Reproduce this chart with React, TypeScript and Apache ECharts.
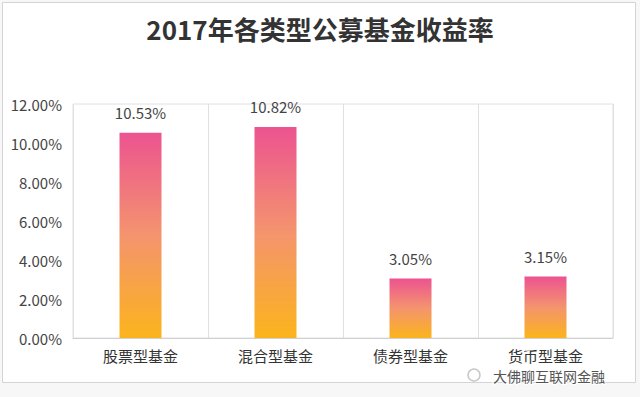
import React, { useEffect, useRef } from "react";
import * as echarts from "echarts";

const titleText = "2017年各类型公募基金收益率";
const categories = ["股票型基金", "混合型基金", "债券型基金", "货币型基金"];
const values = [10.53, 10.82, 3.05, 3.15];
const yMax = 12;
const yInterval = 2;
const watermark = "大佛聊互联网金融";

const FONT = "'Noto Sans CJK SC', 'Noto Sans', sans-serif";

export default function App() {
  const ref = useRef<HTMLDivElement>(null);
  useEffect(() => {
    document.body.style.margin = "0";
    const chart = echarts.init(ref.current!, null, { renderer: "svg" });
    chart.setOption({
      animation: false,
      backgroundColor: "#f7f7f8",
      textStyle: { fontFamily: FONT },
      title: {
        text: titleText,
        left: "center",
        top: 10,
        textStyle: { fontSize: 26, fontWeight: "bold", color: "#333", fontFamily: FONT },
      },
      graphic: [
        {
          type: "rect",
          z: -10,
          silent: true,
          shape: { x: 2.5, y: 2.5, width: 633, height: 380 },
          style: { fill: "#ffffff", stroke: "#d4d4d8", lineWidth: 1 },
        },
        {
          type: "circle",
          z: 50,
          shape: { cx: 474, cy: 375, r: 6 },
          style: { fill: "none", stroke: "#c8c8c8", lineWidth: 1.5 },
        },
        {
          type: "text",
          z: 50,
          x: 493,
          y: 376,
          style: {
            text: watermark,
            font: `14px ${FONT}`,
            fill: "#555",
            stroke: "#fff",
            lineWidth: 2,
            textVerticalAlign: "middle",
          },
        },
      ],
      grid: {
        left: 73,
        right: 27,
        top: 104,
        bottom: 59,
        show: true,
        borderColor: "#e0e0e0",
        borderWidth: 1,
      },
      xAxis: {
        type: "category",
        data: categories,
        axisTick: { show: false },
        axisLine: { lineStyle: { color: "#d0d0d0" } },
        axisLabel: { fontSize: 15, color: "#333", margin: 10, fontFamily: FONT },
        splitLine: { show: true, lineStyle: { color: "#e0e0e0" } },
      },
      yAxis: {
        type: "value",
        min: 0,
        max: yMax,
        interval: yInterval,
        axisLine: { show: false },
        axisTick: { show: false },
        splitLine: { show: false },
        axisLabel: {
          fontSize: 15,
          color: "#444",
          margin: 11,
          fontFamily: FONT,
          formatter: (v: number) => v.toFixed(2) + "%",
        },
      },
      series: [
        {
          type: "bar",
          data: values,
          barWidth: 42,
          itemStyle: {
            color: new echarts.graphic.LinearGradient(0, 0, 0, 1, [
              { offset: 0, color: "#ec5390" },
              { offset: 0.5, color: "#f4946e" },
              { offset: 1, color: "#fbb41c" },
            ]),
          },
          label: {
            show: true,
            position: "top",
            distance: 13,
            fontSize: 15,
            color: "#444",
            fontFamily: FONT,
            formatter: (p: any) => p.value.toFixed(2) + "%",
          },
        },
      ],
    });
    return () => chart.dispose();
  }, []);
  return <div ref={ref} style={{ width: 640, height: 397 }} />;
}
